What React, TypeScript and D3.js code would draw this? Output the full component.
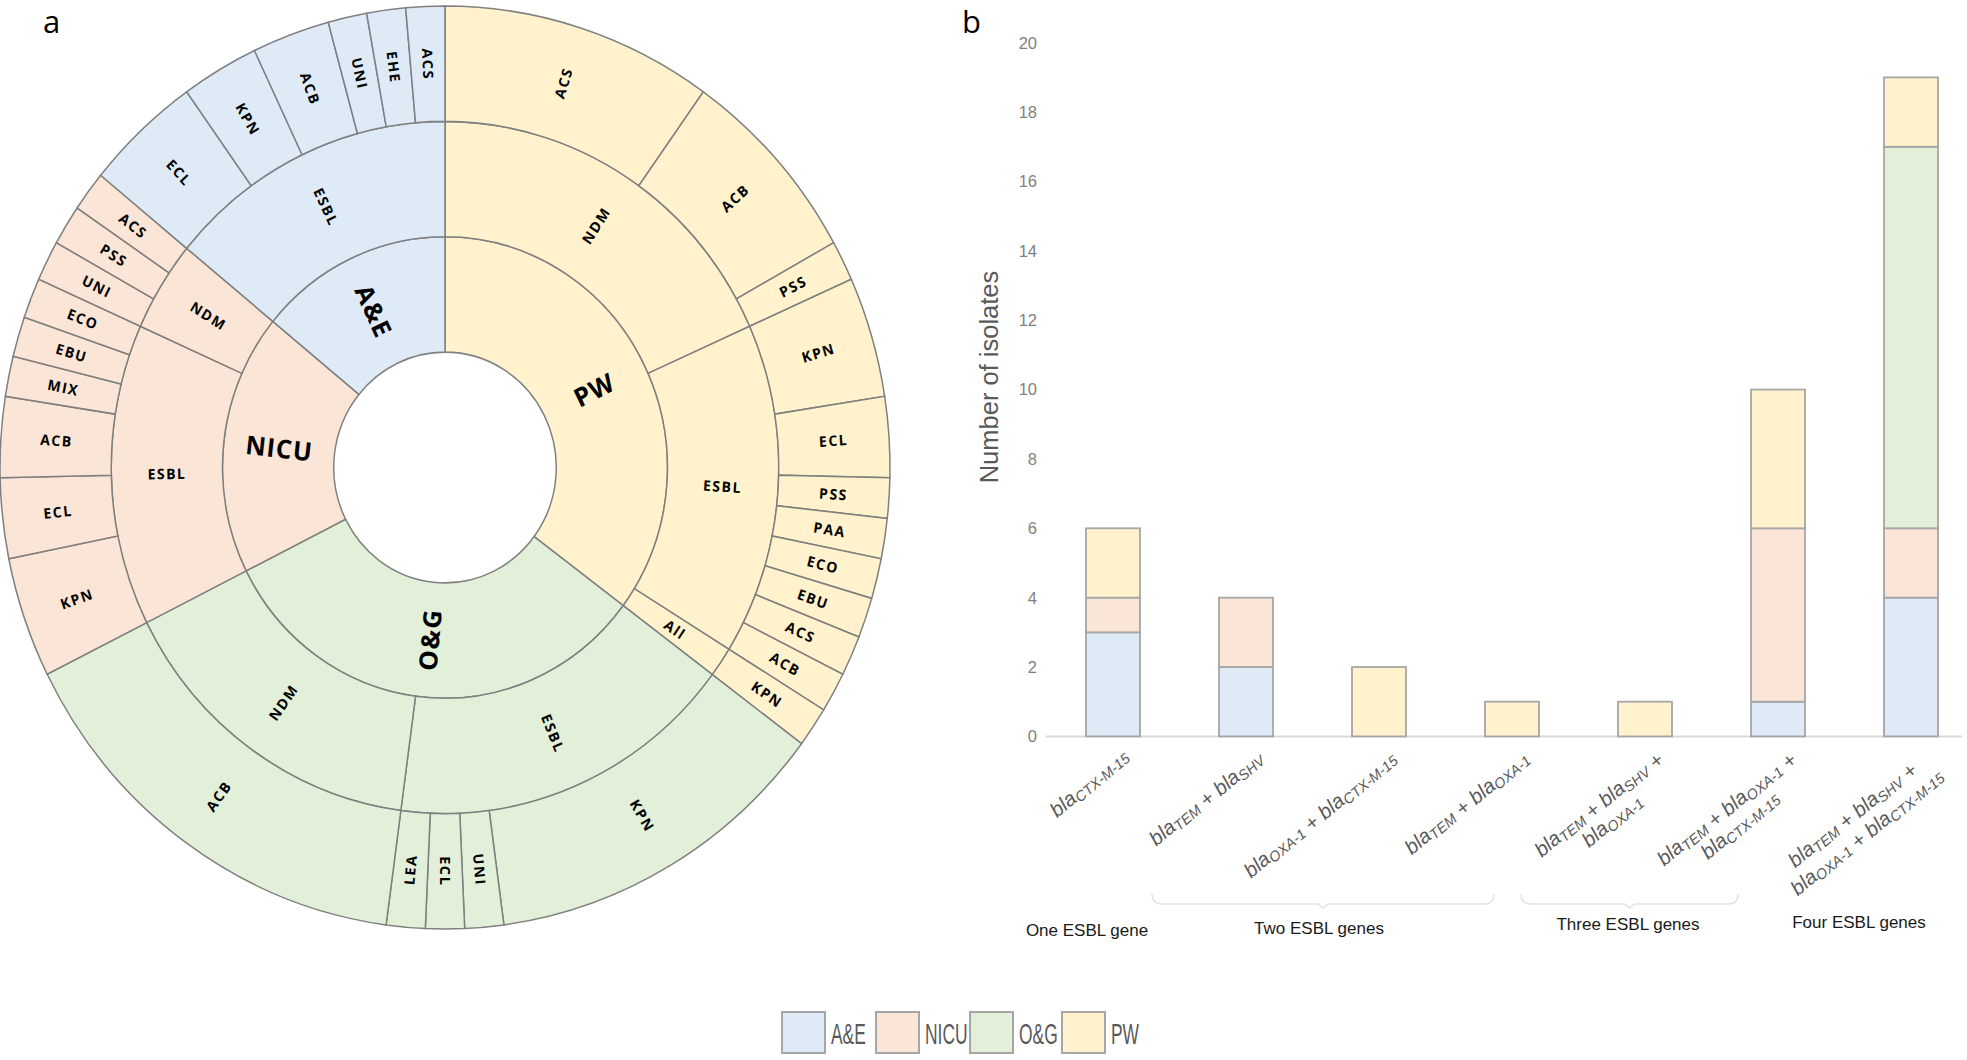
import React, { useEffect, useRef } from "react";
import * as d3 from "d3";

const W = 1967;
const H = 1060;

// ---------- panel a: isolates per ward / gene class / organism ----------
const wardNames = ["PW", "O&G", "NICU", "A&E"];
const wardFill = ["#FFF2CC", "#E2F0D9", "#FBE5D6", "#DEEBF7"];

const pwNDM: [string, number][] = [["ACS", 7], ["ACB", 5], ["PSS", 1]];
const pwESBL: [string, number][] = [
  ["KPN", 3], ["ECL", 2], ["PSS", 1], ["PAA", 1],
  ["ECO", 1], ["EBU", 1], ["ACS", 1], ["ACB", 1],
];
const pwAll: [string, number][] = [["KPN", 1]];
const ogESBL: [string, number][] = [["KPN", 9], ["UNI", 1], ["ECL", 1], ["LEA", 1]];
const ogNDM: [string, number][] = [["ACB", 11]];
const nicuESBL: [string, number][] = [
  ["KPN", 3], ["ECL", 2], ["ACB", 2], ["MIX", 1], ["EBU", 1], ["ECO", 1],
];
const nicuNDM: [string, number][] = [["UNI", 1], ["PSS", 1], ["ACS", 1]];
const aeESBL: [string, number][] = [
  ["ECL", 3], ["KPN", 2], ["ACB", 2], ["UNI", 1], ["EHE", 1], ["ACS", 1],
];

const wardClasses: [string, [string, number][]][][] = [
  [["NDM", pwNDM], ["ESBL", pwESBL], ["All", pwAll]],
  [["ESBL", ogESBL], ["NDM", ogNDM]],
  [["ESBL", nicuESBL], ["NDM", nicuNDM]],
  [["ESBL", aeESBL]],
];

// ---------- panel b: ESBL gene combinations ----------
// {..} marks a subscript, | breaks the line
const comboLabels = [
  "bla{CTX-M-15}",
  "bla{TEM} + bla{SHV}",
  "bla{OXA-1} + bla{CTX-M-15}",
  "bla{TEM} + bla{OXA-1}",
  "bla{TEM} + bla{SHV} +|bla{OXA-1}",
  "bla{TEM} + bla{OXA-1} +|bla{CTX-M-15}",
  "bla{TEM} + bla{SHV} +|bla{OXA-1} + bla{CTX-M-15}",
];
const aeCounts = [3, 2, 0, 0, 0, 1, 4];
const nicuCounts = [1, 2, 0, 0, 0, 5, 2];
const ogCounts = [0, 0, 0, 0, 0, 0, 11];
const pwCounts = [2, 0, 2, 1, 1, 4, 2];
const yTicks = [0, 2, 4, 6, 8, 10, 12, 14, 16, 18, 20];
const geneGroups = ["One ESBL gene", "Two ESBL genes", "Three ESBL genes", "Four ESBL genes"];

const barKeys = ["A&E", "NICU", "O&G", "PW"];
const barFill: Record<string, string> = {
  "A&E": "#DEEBF7",
  NICU: "#FBE5D6",
  "O&G": "#E2F0D9",
  PW: "#FFF2CC",
};

const SANS = "'Liberation Sans', Arial, sans-serif";

function drawSunburst(parent: d3.Selection<SVGGElement, unknown, null, undefined>) {
  const cx = 445, cy = 467.5, sy = 1.037, ring = 111.25;

  const data = {
    name: "root",
    children: wardNames.map((w, i) => ({
      name: w,
      ward: i,
      children: wardClasses[i].map(([cls, leaves]) => ({
        name: cls,
        children: leaves.map(([n, v]) => ({ name: n, value: v })),
      })),
    })),
  };

  const root = d3.hierarchy<any>(data).sum((d) => d.value || 0);
  d3.partition<any>().size([2 * Math.PI, 4])(root);
  const nodes = root.descendants().filter((d: any) => d.depth > 0) as any[];
  const wardOf = (d: any) => d.ancestors().find((a: any) => a.depth === 1).data.ward;

  const arc = d3
    .arc<any>()
    .startAngle((d) => d.x0)
    .endAngle((d) => d.x1)
    .innerRadius((d) => d.y0 * ring)
    .outerRadius((d) => d.y1 * ring);

  const g = parent.append("g").attr("transform", `translate(${cx},${cy}) scale(1,${sy})`);

  g.selectAll("path")
    .data(nodes)
    .join("path")
    .attr("d", arc)
    .attr("fill", (d) => wardFill[wardOf(d)])
    .attr("stroke", "#808080")
    .attr("stroke-width", 1.5);

  g.selectAll("text")
    .data(nodes)
    .join("text")
    .attr("transform", (d) => {
      const a = (d.x0 + d.x1) / 2;
      const r = ((d.y0 + d.y1) / 2) * ring;
      const deg = (a * 180) / Math.PI;
      const rot = deg <= 180.5 ? deg - 90 : deg - 270;
      return `translate(${r * Math.sin(a)},${-r * Math.cos(a)}) rotate(${rot})`;
    })
    .attr("text-anchor", "middle")
    .attr("dy", "0.36em")
    .style("font-family", "'Open Sans', sans-serif")
    .style("font-weight", 700)
    .style("font-size", (d) => (d.depth === 1 ? "25px" : "14px"))
    .style("letter-spacing", (d) => (d.depth === 1 ? "1px" : "1.5px"))
    .attr("fill", "#000")
    .text((d) => d.data.name);

  parent
    .append("text")
    .attr("x", 43)
    .attr("y", 33)
    .style("font-family", "'Open Sans', sans-serif")
    .style("font-size", "31px")
    .text("a");
}

function addRich(text: d3.Selection<SVGTextElement, unknown, null, undefined>, line: string) {
  const parts = line.split(/(\{[^}]*\})/).filter((p) => p.length);
  parts.forEach((p) => {
    if (p.startsWith("{")) {
      text.append("tspan").attr("font-size", "14.5px").attr("dy", 3).text(p.slice(1, -1));
      text.append("tspan").attr("dy", -3).text("");
    } else {
      text.append("tspan").text(p);
    }
  });
}

function drawBars(parent: d3.Selection<SVGGElement, unknown, null, undefined>) {
  const x = d3
    .scaleBand<number>()
    .domain(d3.range(comboLabels.length))
    .range([1046.5, 1977.5])
    .paddingInner(0.594)
    .paddingOuter(0.297);
  const y = d3.scaleLinear().domain([0, 20]).range([736.4, 42.7]);

  const rows = comboLabels.map((_, i) => ({
    i,
    "A&E": aeCounts[i],
    NICU: nicuCounts[i],
    "O&G": ogCounts[i],
    PW: pwCounts[i],
  }));
  const series = d3.stack<any>().keys(barKeys)(rows);

  parent
    .append("line")
    .attr("x1", 1046)
    .attr("x2", 1962)
    .attr("y1", y(0))
    .attr("y2", y(0))
    .attr("stroke", "#d9d9d9")
    .attr("stroke-width", 2);

  series.forEach((s) => {
    parent
      .append("g")
      .selectAll("rect")
      .data(s.filter((d) => d[1] - d[0] > 0))
      .join("rect")
      .attr("x", (d) => x(d.data.i)!)
      .attr("width", x.bandwidth())
      .attr("y", (d) => y(d[1]))
      .attr("height", (d) => y(d[0]) - y(d[1]))
      .attr("fill", barFill[s.key])
      .attr("stroke", "#a6a6a6")
      .attr("stroke-width", 1.8);
  });

  // y axis (labels only)
  parent
    .append("g")
    .selectAll("text")
    .data(yTicks)
    .join("text")
    .attr("x", 1037)
    .attr("y", (d) => y(d))
    .attr("dy", "0.36em")
    .attr("text-anchor", "end")
    .style("font-family", SANS)
    .style("font-size", "16.5px")
    .attr("fill", "#7f7f7f")
    .text((d) => d);

  parent
    .append("text")
    .attr("transform", `translate(998,377) rotate(-90)`)
    .attr("text-anchor", "middle")
    .style("font-family", SANS)
    .style("font-size", "25.5px")
    .attr("fill", "#595959")
    .text("Number of isolates");

  // rotated category labels
  const angle = 40;
  const lh = 23;
  comboLabels.forEach((lab, i) => {
    const cxp = x(i)! + x.bandwidth() / 2;
    const lg = parent
      .append("g")
      .attr("transform", `translate(${cxp + 6},${y(0) + 9}) rotate(${-angle})`);
    const lines = lab.split("|");
    const texts = lines.map((ln, k) => {
      const t = lg
        .append("text")
        .attr("y", 16 + k * lh)
        .attr("text-anchor", "middle")
        .style("font-family", SANS)
        .style("font-size", "20.5px")
        .style("font-style", "italic")
        .attr("fill", "#595959");
      addRich(t, ln);
      return t;
    });
    const wMax = d3.max(texts, (t) => (t.node() as SVGTextElement).getComputedTextLength()) || 0;
    texts.forEach((t) => t.attr("x", -wMax / 2));
  });

  // gene-count groups with braces
  const braces = [
    [1152, 1494],
    [1521, 1738],
  ];
  braces.forEach(([a, b]) => {
    const yb = 904;
    const m = (a + b) / 2;
    parent
      .append("path")
      .attr(
        "d",
        `M${a},${yb - 10} Q${a},${yb} ${a + 10},${yb} L${m - 5},${yb} L${m},${yb + 4} L${m + 5},${yb} L${b - 10},${yb} Q${b},${yb} ${b},${yb - 10}`
      )
      .attr("fill", "none")
      .attr("stroke", "#e3e3e3")
      .attr("stroke-width", 1.5);
  });
  const groupX = [1087, 1319, 1628, 1859];
  const groupY = [930, 928, 924, 922];
  geneGroups.forEach((gname, i) => {
    parent
      .append("text")
      .attr("x", groupX[i])
      .attr("y", groupY[i])
      .attr("dy", "0.36em")
      .attr("text-anchor", "middle")
      .style("font-family", SANS)
      .style("font-size", "17px")
      .attr("fill", "#1a1a1a")
      .text(gname);
  });

  parent
    .append("text")
    .attr("x", 962)
    .attr("y", 33)
    .style("font-family", "'Open Sans', sans-serif")
    .style("font-size", "31px")
    .text("b");
}

function drawLegend(parent: d3.Selection<SVGGElement, unknown, null, undefined>) {
  const lx = [782, 876, 970, 1062];
  barKeys.forEach((k, i) => {
    parent
      .append("rect")
      .attr("x", lx[i])
      .attr("y", 1012)
      .attr("width", 43)
      .attr("height", 41)
      .attr("fill", barFill[k])
      .attr("stroke", "#a6a6a6")
      .attr("stroke-width", 2);
    parent
      .append("text")
      .attr("transform", `translate(${lx[i] + 49},1033) scale(0.58,1)`)
      .attr("dy", "0.36em")
      .style("font-family", SANS)
      .style("font-size", "30px")
      .attr("fill", "#595959")
      .text(k);
  });
}

const App: React.FC = () => {
  const ref = useRef<SVGSVGElement>(null);

  useEffect(() => {
    const svg = d3.select(ref.current);
    svg.selectAll("*").remove();
    drawSunburst(svg.append("g"));
    drawBars(svg.append("g"));
    drawLegend(svg.append("g"));
  }, []);

  return (
    <svg
      ref={ref}
      width={W}
      height={H}
      style={{ position: "absolute", left: 0, top: 0, background: "#fff" }}
    />
  );
};

export default App;
